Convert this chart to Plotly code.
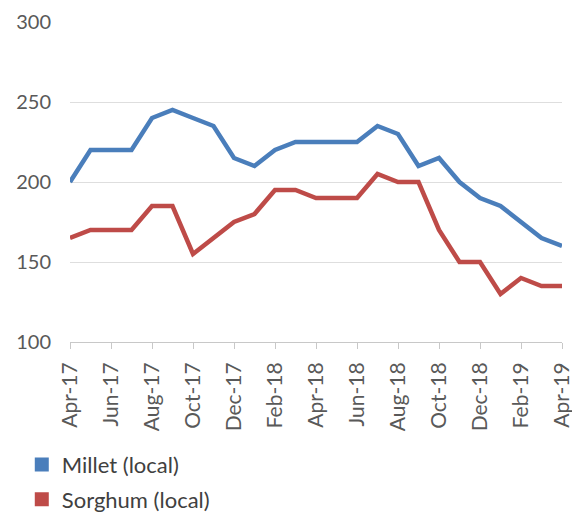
import plotly.graph_objects as go

months = ["Apr-17", "May-17", "Jun-17", "Jul-17", "Aug-17", "Sep-17", "Oct-17", "Nov-17",
          "Dec-17", "Jan-18", "Feb-18", "Mar-18", "Apr-18", "May-18", "Jun-18", "Jul-18",
          "Aug-18", "Sep-18", "Oct-18", "Nov-18", "Dec-18", "Jan-19", "Feb-19", "Mar-19",
          "Apr-19"]
millet = [200, 220, 220, 220, 240, 245, 240, 235, 215, 210, 220, 225, 225, 225, 225, 235,
          230, 210, 215, 200, 190, 185, 175, 165, 160]
sorghum = [165, 170, 170, 170, 185, 185, 155, 165, 175, 180, 195, 195, 190, 190, 190, 205,
           200, 200, 170, 150, 150, 130, 140, 135, 135]
tick_labels = months[::2]
y_ticks = [100, 150, 200, 250, 300]

BLUE = "#4a7ebb"
RED = "#be4b48"
FONT = "Lato"
GRAY = "#595959"

fig = go.Figure()
fig.add_trace(go.Scatter(x=months, y=millet, mode="lines", line=dict(color=BLUE, width=4.5),
                         showlegend=False))
fig.add_trace(go.Scatter(x=months, y=sorghum, mode="lines", line=dict(color=RED, width=4.5),
                         showlegend=False))
fig.add_trace(go.Scatter(x=[None], y=[None], mode="markers", name="Millet (local)",
                         marker=dict(symbol="square", size=14, color=BLUE),
                         legendgroup="a"))
fig.add_trace(go.Scatter(x=[None], y=[None], mode="markers", name="Sorghum (local)",
                         marker=dict(symbol="square", size=14, color=RED),
                         legendgroup="b"))

fig.update_layout(
    width=572, height=505,
    margin=dict(l=62, r=18, t=14, b=171, autoexpand=False),
    paper_bgcolor="white", plot_bgcolor="white",
    font=dict(family=FONT, size=18, color=GRAY),
    xaxis=dict(type="category", categoryorder="array", categoryarray=months,
               range=[0, 24], tickmode="array", tickvals=tick_labels, ticktext=tick_labels,
               tickangle=-90, showgrid=False, showline=True, linecolor="#c8c8c8",
               linewidth=1, ticks="outside", ticklen=6, tickcolor="#c8c8c8",
               ticklabelstandoff=5, automargin=False,
               tickfont=dict(family=FONT, size=21, color=GRAY)),
    yaxis=dict(range=[100, 300], tickvals=y_ticks, showgrid=True, gridcolor="#dedede",
               gridwidth=1, zeroline=False, showline=False, ticks="",
               ticklabelstandoff=18, automargin=False,
               tickfont=dict(family=FONT, size=20, color=GRAY)),
    legend=dict(x=-0.098, y=-0.318, xanchor="left", yanchor="top", orientation="v",
                traceorder="grouped", tracegroupgap=3,
                font=dict(family=FONT, size=22, color="#404040")),
)

fig.write_html("out.html")
